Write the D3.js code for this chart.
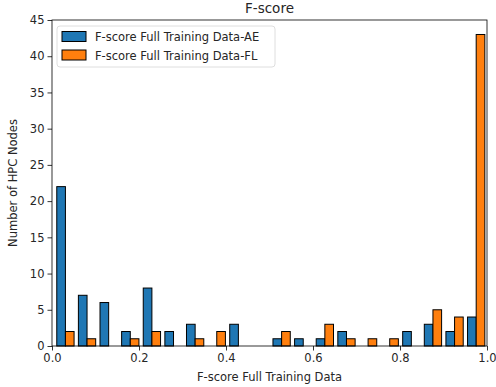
<!DOCTYPE html>
<html>
<head>
<meta charset="utf-8">
<script src="https://cdn.jsdelivr.net/npm/d3@7"></script>
<style>
  html, body { margin: 0; padding: 0; background: #fff; }
  svg { display: block; font-family: "DejaVu Sans", sans-serif; }
</style>
</head>
<body>
<svg id="chart" width="496" height="387"></svg>
<script>
// Histogram counts per F-score bin (20 equal bins between the lowest and highest score)
const binCount = 20;
const scoreMin = 0.006;
const scoreMax = 1.0;
const countsAE = [22, 7, 6, 2, 8, 2, 3, 0, 3, 0, 1, 1, 1, 2, 0, 0, 2, 3, 2, 4];
const countsFL = [2, 1, 0, 1, 2, 0, 1, 2, 0, 0, 2, 0, 3, 1, 1, 1, 0, 5, 4, 43];
const seriesNames = ["F-score Full Training Data-AE", "F-score Full Training Data-FL"];
const seriesColors = ["#1f77b4", "#ff7f0e"];
const xTicks = [0.0, 0.2, 0.4, 0.6, 0.8, 1.0];
const yTicks = [0, 5, 10, 15, 20, 25, 30, 35, 40, 45];

const svg = d3.select("#chart");
const margin = { left: 52, right: 9, top: 20, bottom: 41 };
const W = 496, H = 387;
const innerW = W - margin.left - margin.right;
const innerH = H - margin.top - margin.bottom;

const x = d3.scaleLinear().domain([0, 1]).range([margin.left, margin.left + innerW]);
const y = d3.scaleLinear().domain([0, 45]).range([margin.top + innerH, margin.top]);

const binW = (scoreMax - scoreMin) / binCount;
const series = [countsAE, countsFL];

// Bars: each bin holds two side-by-side bars taking 80% of the bin width
const g = svg.append("g");
series.forEach((counts, s) => {
  g.selectAll(null)
    .data(counts.map((c, i) => ({ c, i })))
    .enter()
    .filter(d => d.c > 0)
    .append("rect")
    .attr("x", d => x(scoreMin + binW * d.i + binW * (0.1 + 0.4 * s)))
    .attr("width", d => x(binW * 0.4) - x(0))
    .attr("y", d => y(d.c))
    .attr("height", d => y(0) - y(d.c))
    .attr("fill", seriesColors[s])
    .attr("stroke", "#000")
    .attr("stroke-width", 1);
});

// Axes frame
svg.append("rect")
  .attr("x", margin.left).attr("y", margin.top)
  .attr("width", innerW).attr("height", innerH)
  .attr("fill", "none").attr("stroke", "#000").attr("stroke-width", 0.8);

const xAxis = d3.axisBottom(x).tickValues(xTicks).tickFormat(d3.format(".1f")).tickSize(4.5).tickPadding(3);
const yAxis = d3.axisLeft(y).tickValues(yTicks).tickFormat(d3.format("d")).tickSize(4.5).tickPadding(3);

const gx = svg.append("g").attr("transform", `translate(0,${margin.top + innerH})`).call(xAxis);
const gy = svg.append("g").attr("transform", `translate(${margin.left},0)`).call(yAxis);
[gx, gy].forEach(a => {
  a.select(".domain").remove();
  a.selectAll("text").attr("font-size", 11.5).attr("fill", "#262626").attr("font-family", "DejaVu Sans");
  a.selectAll("line").attr("stroke", "#000").attr("stroke-width", 0.8);
});

// Title and axis labels
svg.append("text").attr("x", margin.left + innerW / 2).attr("y", 13)
  .attr("text-anchor", "middle").attr("font-size", 13.5).attr("fill", "#262626").text("F-score");
svg.append("text").attr("x", margin.left + innerW / 2).attr("y", 381)
  .attr("text-anchor", "middle").attr("font-size", 11.5).attr("fill", "#262626").text("F-score Full Training Data");
svg.append("text").attr("transform", `translate(17,${margin.top + innerH / 2}) rotate(-90)`)
  .attr("text-anchor", "middle").attr("font-size", 11.5).attr("fill", "#262626").text("Number of HPC Nodes");

// Legend
const lg = svg.append("g").attr("transform", "translate(57,26)");
lg.append("rect").attr("width", 218).attr("height", 41).attr("rx", 3)
  .attr("fill", "#fff").attr("fill-opacity", 0.8).attr("stroke", "#d6d6d6").attr("stroke-width", 0.8);
seriesNames.forEach((name, i) => {
  lg.append("rect").attr("x", 5).attr("y", 5.5 + i * 18.5).attr("width", 24).attr("height", 10)
    .attr("fill", seriesColors[i]).attr("stroke", "#000").attr("stroke-width", 1);
  lg.append("text").attr("x", 38).attr("y", 15 + i * 18.5)
    .attr("font-size", 11.5).attr("fill", "#262626").text(name);
});
</script>
</body>
</html>
